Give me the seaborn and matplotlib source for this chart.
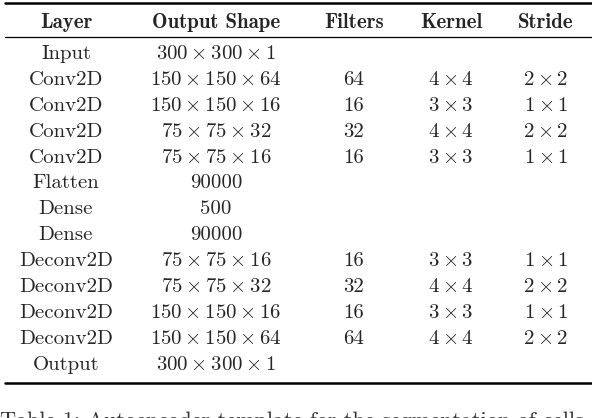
import matplotlib
matplotlib.use("Agg")
import matplotlib.pyplot as plt
import seaborn as sns

sns.set_theme(style="white")
plt.rcParams["font.family"] = ["cmr10", "DejaVu Serif"]
plt.rcParams["mathtext.fontset"] = "cm"
plt.rcParams["axes.unicode_minus"] = False

headers = ["Layer", "Output Shape", "Filters", "Kernel", "Stride"]
layers = ["Input", "Conv2D", "Conv2D", "Conv2D", "Conv2D", "Flatten", "Dense", "Dense",
          "Deconv2D", "Deconv2D", "Deconv2D", "Deconv2D", "Output"]
shapes = ["300x300x1", "150x150x64", "150x150x16", "75x75x32", "75x75x16", "90000", "500", "90000",
          "75x75x16", "75x75x32", "150x150x16", "150x150x64", "300x300x1"]
filters = ["", "64", "16", "32", "16", "", "", "", "16", "32", "16", "64", ""]
kernels = ["", "4x4", "3x3", "4x4", "3x3", "", "", "", "3x3", "4x4", "3x3", "4x4", ""]
strides = ["", "2x2", "1x1", "2x2", "1x1", "", "", "", "1x1", "2x2", "1x1", "2x2", ""]
caption = "Table 1: Autoencoder template for the segmentation of cells"

W, H = 592, 418
fig = plt.figure(figsize=(W / 100, H / 100), dpi=100)
ax = fig.add_axes([0, 0, 1, 1])
ax.set_xlim(0, W)
ax.set_ylim(H, 0)
ax.axis("off")

col_x = [66, 216, 354, 451, 546]
fs = 15


def fmt(s):
    if "x" in s:
        return "$" + r"\times".join(s.split("x")) + "$"
    return s


for x, h in zip(col_x, headers):
    ax.text(x, 22, h, ha="center", va="center", fontsize=fs, family=["cmb10", "DejaVu Serif"])

ax.plot([5, 592], [3, 3], color="black", lw=1.8)
ax.plot([5, 592], [37, 37], color="black", lw=0.9)
ax.plot([5, 592], [383, 383], color="black", lw=1.8)

for i in range(len(layers)):
    y = 54 + i * 25.9
    ax.text(col_x[0], y, layers[i], ha="center", va="center", fontsize=fs)
    ax.text(col_x[1], y, fmt(shapes[i]), ha="center", va="center", fontsize=fs)
    ax.text(col_x[2], y, filters[i], ha="center", va="center", fontsize=fs)
    ax.text(col_x[3], y, fmt(kernels[i]), ha="center", va="center", fontsize=fs)
    ax.text(col_x[4], y, fmt(strides[i]), ha="center", va="center", fontsize=fs)

ax.text(0, 411, caption, ha="left", va="top", fontsize=fs + 1, color="#333333")

fig.savefig("out.png", dpi=100)
